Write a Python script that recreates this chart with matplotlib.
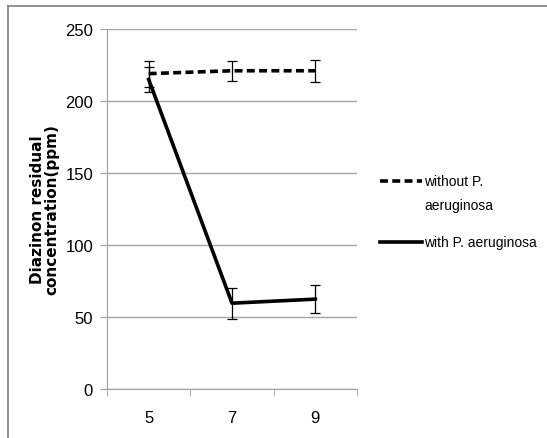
import numpy as np
import matplotlib
matplotlib.use('Agg')
import matplotlib.pyplot as plt
from matplotlib.lines import Line2D

# data
ph_labels   = ['5', '7', '9']
without_pa  = [219, 221, 221]
without_err = [9, 6.8, 7.6]
with_pa     = [215, 59.6, 62.4]
with_err    = [8.6, 10.8, 9.6]

plt.rcParams['font.family'] = ['Liberation Sans', 'DejaVu Sans']

W, H = 547, 439
fig = plt.figure(figsize=(W/100, H/100), dpi=100)
ax = fig.add_axes([107/W, 1 - 390/H, 250/W, 360/H])

x = np.arange(len(ph_labels))
dash = (0, (2.2, 1.2))

ax.errorbar(x, without_pa, yerr=without_err, color='black', linewidth=2.6,
            linestyle=dash, elinewidth=0.9, capsize=3.5, capthick=0.9, zorder=3)
ax.errorbar(x, with_pa, yerr=with_err, color='black', linewidth=2.6,
            elinewidth=0.9, capsize=3.5, capthick=0.9, zorder=3)

ax.set_xlim(-0.5, 2.5)
ax.set_ylim(0, 250)
ax.set_yticks(np.arange(0, 251, 50))
ax.set_xticks(x)
ax.set_xticklabels(ph_labels)
ax.set_xticks([-0.5, 0.5, 1.5, 2.5], minor=True)
ax.tick_params(axis='x', which='major', length=0, pad=15, labelsize=12)
ax.tick_params(axis='x', which='minor', length=5, color='#a0a0a0', direction='out')
ax.tick_params(axis='y', length=5, color='#a0a0a0', labelsize=12, pad=5)

ax.grid(axis='y', color='#a6a6a6', linewidth=1)
ax.set_axisbelow(True)
for s in ['top', 'right']:
    ax.spines[s].set_visible(False)
for s in ['left', 'bottom']:
    ax.spines[s].set_color('#a0a0a0')

ax.set_ylabel('Diazinon residual\nconcentration(ppm)', fontsize=11,
              fontweight='bold', family='DejaVu Sans', labelpad=4, linespacing=0.95)

# legend, drawn by hand so the handle sits on the first line of the wrapped label
def fy(py):
    return 1 - py / H

fig.add_artist(Line2D([380/W, 422/W], [fy(182), fy(182)], color='black',
                      linewidth=2.6, linestyle=dash))
fig.add_artist(Line2D([380/W, 422/W], [fy(243), fy(243)], color='black',
                      linewidth=2.6))
fig.text(424/W, fy(182), 'without P.', fontsize=10, va='center')
fig.text(424/W, fy(206), 'aeruginosa', fontsize=10, va='center')
fig.text(424/W, fy(243), 'with P. aeruginosa', fontsize=10, va='center')

# outer chart frame (left and top edges)
fig.add_artist(Line2D([8/W, 8/W], [0, fy(7)], color='#7f7f7f', linewidth=1.2))
fig.add_artist(Line2D([8/W, 1], [fy(7), fy(7)], color='#7f7f7f', linewidth=1.2))

fig.savefig('out.png', dpi=100, facecolor='white')
